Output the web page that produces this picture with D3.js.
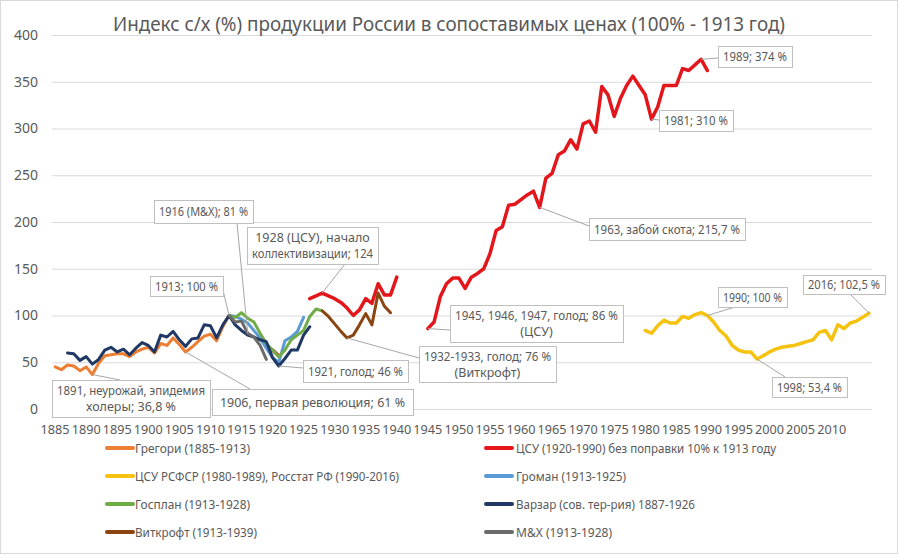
<!DOCTYPE html>
<html>
<head>
<meta charset="utf-8">
<script src="https://cdn.jsdelivr.net/npm/d3@7/dist/d3.min.js"></script>
<style>
body { margin: 0; background: #fff; }
text { font-family: "Noto Sans", sans-serif; fill: #595959; }
</style>
</head>
<body>
<script>
var width = 900, height = 558;

// years on the category axis and tick labels
var firstYear = 1885, lastYear = 2016;
var tickYears = [1885, 1890, 1895, 1900, 1905, 1910, 1915, 1920, 1925, 1930, 1935, 1940, 1945, 1950,
	1955, 1960, 1965, 1970, 1975, 1980, 1985, 1990, 1995, 2000, 2005, 2010];
var yTicks = [0, 50, 100, 150, 200, 250, 300, 350, 400];

var title = 'Индекс с/х (%) продукции России в сопоставимых ценах (100% - 1913 год)';

// series values (null = gap)
var gregoriStart = 1885;
var gregori = [45, 42, 47, 46, 41, 45, 36.8, 49, 57, 58, 59, 59, 56, 61, 64, 66, 60, 70, 68, 76,
	69, 61, 66, 72, 78, 80, 73, 88, 100];

var csuStart = 1920;
var csu = [63, 57, null, null, null, null,
	118, 121, 124, 121, 118, 114, 108, 100, 106, 118, 113, 134, 122, 122, 141,
	null, null, null, null,
	86, 93, 120, 134, 140, 140, 129, 141, 145, 150, 166, 191, 195, 218, 219, 224, 229, 233, 215.7,
	247, 252, 272, 276, 288, 278, 305, 308, 296, 345, 336, 313, 332, 346, 356, 346, 336, 310,
	323, 346, 346, 346, 364, 362, 368, 374, 362];

var rsfsrStart = 1980;
var rsfsr = [84, 81, 89, 95, 92, 92, 99, 97, 101, 103, 100, 93, 84, 78, 68, 63, 61, 61, 53.4,
	57, 61, 64, 66, 67, 68, 70, 72, 74, 82, 84, 74, 90, 86, 92, 94, 98, 102.5];

var gromanStart = 1913;
var groman = [100, 99, 96, 92, 84, 76, 65, 55, 50, 73, 77, 83, 98];

var gosplanStart = 1913;
var gosplan = [100, 98, 103, 97, 93, 81, 70, 63, 56, 63, 74, 79, 84, 99, 107, 105];

var varzarStart = 1887;
var varzar = [60, 59, 52, 56, 48, 53, 63, 66, 61, 64, 58, 65, 71, 68, 61, 79, 77, 83, 74, 67,
	75, 76, 90, 89, 76, 90, 100, 90, 84, 79, 77, 74, 72, 55, 46, 54, 63, 63, 79, 88];

var vitkroftStart = 1928;
var vitkroft = [105, 99, 91, 83, 76, 79, 90, 102, 90, 124, 110, 103];

var mxStart = 1913;
var mx = [100, 93, 94, 81, 77, 68, 53];

var legendLabels = ['Грегори (1885-1913)', 'ЦСУ (1920-1990) без поправки 10% к 1913 году',
	'ЦСУ РСФСР (1980-1989), Росстат РФ (1990-2016)', 'Громан (1913-1925)',
	'Госплан (1913-1928)', 'Варзар (сов. тер-рия) 1887-1926',
	'Виткрофт (1913-1939)', 'М&Х (1913-1928)'];

// callouts: text lines and the point they belong to
var calloutText = [
	['1891, неурожай, эпидемия', 'холеры; 36,8 %'],
	['1906, первая революция; 61 %'],
	['1913; 100 %'],
	['1916 (М&Х); 81 %'],
	['1921, голод; 46 %'],
	['1928 (ЦСУ), начало', 'коллективизации; 124'],
	['1932-1933, голод; 76 %', '(Виткрофт)'],
	['1945, 1946, 1947, голод; 86 %', '(ЦСУ)'],
	['1963, забой скота; 215,7 %'],
	['1981; 310 %'],
	['1989; 374 %'],
	['1990; 100 %'],
	['1998; 53,4 %'],
	['2016; 102,5 %']
];
var calloutYear = [1891, 1906, 1913, 1916, 1921, 1928, 1932, 1945, 1963, 1981, 1989, 1990, 1998, 2016];
var calloutValue = [36.8, 61, 100, 81, 46, 124, 76, 86, 215.7, 310, 374, 100, 53.4, 102.5];

// ---- layout / style ----
var seriesColor = ['#ED7D31', '#E3161C', '#F4C20F', '#5B9BD5', '#70AD47', '#203864', '#8B4513', '#6B6B6B'];
var seriesWidth = [3, 3.5, 3.5, 3, 3, 3, 3, 3];
// drawing order follows legend order
var series = [
	{ start: gregoriStart, values: gregori },
	{ start: csuStart, values: csu },
	{ start: rsfsrStart, values: rsfsr },
	{ start: gromanStart, values: groman },
	{ start: gosplanStart, values: gosplan },
	{ start: varzarStart, values: varzar },
	{ start: vitkroftStart, values: vitkroft },
	{ start: mxStart, values: mx }
];
var legendTextWidth = [115, 260, 264, 110, 115, 179, 122, 96];

// box [x, y, w, h] and where the leader meets it
var calloutBox = [
	[52, 380, 158, 37], [212, 389, 201, 26], [150, 276, 73, 20], [154, 200, 99, 23],
	[303, 360, 105, 22], [247, 227, 131, 37], [419, 346, 137, 36], [450, 305, 173, 37],
	[589, 218, 156, 22], [659, 110, 74, 21], [718, 46, 74, 21], [718, 287, 69, 20],
	[772, 377, 75, 20], [803, 275, 82, 19]
];
var calloutJoin = [
	[120, 380], [250, 389], [223, 290], [237, 223], [303, 368], [345, 264], [419, 358], [450, 330],
	[589, 226], [659, 120], [718, 58], [735, 307], [785, 377], [850, 294]
];

var svg = d3.select('body').append('svg').attr('width', width).attr('height', height);
svg.append('rect').attr('x', 0.5).attr('y', 0.5).attr('width', 897).attr('height', 553)
	.attr('fill', '#fff').attr('stroke', '#d9d9d9');

var years = d3.range(firstYear, lastYear + 1);
var x = d3.scaleBand().domain(years).range([52, 872]);
var xc = yr => x(yr) + x.bandwidth() / 2;
var y = d3.scaleLinear().domain([0, 400]).range([409, 35]);

// grid + y axis
var ya = svg.append('g').attr('transform', 'translate(52,0)')
	.call(d3.axisLeft(y).tickValues(yTicks).tickSize(-820).tickPadding(14));
ya.select('.domain').remove();
ya.selectAll('line').attr('stroke', '#d9d9d9');
ya.selectAll('text').attr('font-size', 14).style('fill', '#595959');

// x axis labels
var xa = svg.append('g').attr('transform', 'translate(0,409)')
	.call(d3.axisBottom(x).tickValues(tickYears).tickSize(0).tickPadding(16));
xa.select('.domain').remove();
xa.selectAll('text').attr('font-size', 12).style('fill', '#595959')
	.attr('textLength', 29).attr('lengthAdjust', 'spacingAndGlyphs');

svg.append('text').attr('x', 449).attr('y', 31).attr('text-anchor', 'middle')
	.attr('font-size', 19).text(title)
	.attr('textLength', 672).attr('lengthAdjust', 'spacingAndGlyphs');

// series lines
var line = d3.line()
	.defined(d => d.v != null)
	.x(d => xc(d.year))
	.y(d => y(d.v));

series.forEach((s, i) => {
	var pts = s.values.map((v, k) => ({ year: s.start + k, v: v }));
	svg.append('path').datum(pts)
		.attr('d', line)
		.attr('fill', 'none')
		.attr('stroke', seriesColor[i])
		.attr('stroke-width', seriesWidth[i])
		.attr('stroke-linejoin', 'round')
		.attr('stroke-linecap', 'round');
});

// callouts
var cg = svg.append('g');
calloutText.forEach((lines, i) => {
	var b = calloutBox[i], j = calloutJoin[i];
	cg.append('line')
		.attr('x1', xc(calloutYear[i])).attr('y1', y(calloutValue[i]))
		.attr('x2', j[0]).attr('y2', j[1])
		.attr('stroke', '#a6a6a6').attr('stroke-width', 1);
});
calloutText.forEach((lines, i) => {
	var b = calloutBox[i];
	cg.append('rect').attr('x', b[0] + 0.5).attr('y', b[1] + 0.5).attr('width', b[2]).attr('height', b[3])
		.attr('fill', '#fff').attr('stroke', '#bfbfbf');
	var lh = 16;
	var y0 = b[1] + b[3] / 2 - (lines.length - 1) * lh / 2 + 4.5;
	lines.forEach((t, k) => {
		var tx = cg.append('text').attr('x', b[0] + b[2] / 2).attr('y', y0 + k * lh)
			.attr('text-anchor', 'middle').attr('font-size', 12.5).text(t);
		var maxW = b[2] - 10;
		if (tx.node().getComputedTextLength() > maxW) {
			tx.attr('textLength', maxW).attr('lengthAdjust', 'spacingAndGlyphs');
		}
	});
});

// legend
var legendRowY = [448, 476, 504, 532];
var legendSwatchX = [105, 484];
var legendTextX = [135, 516];
legendLabels.forEach((lab, i) => {
	var row = Math.floor(i / 2), col = i % 2;
	svg.append('line')
		.attr('x1', legendSwatchX[col] + 2).attr('x2', legendSwatchX[col] + 28)
		.attr('y1', legendRowY[row]).attr('y2', legendRowY[row])
		.attr('stroke', seriesColor[i]).attr('stroke-width', 4).attr('stroke-linecap', 'round');
	svg.append('text').attr('x', legendTextX[col]).attr('y', legendRowY[row] + 4.5)
		.attr('font-size', 12.5).text(lab)
		.attr('textLength', legendTextWidth[i]).attr('lengthAdjust', 'spacingAndGlyphs');
});
</script>
</body>
</html>
